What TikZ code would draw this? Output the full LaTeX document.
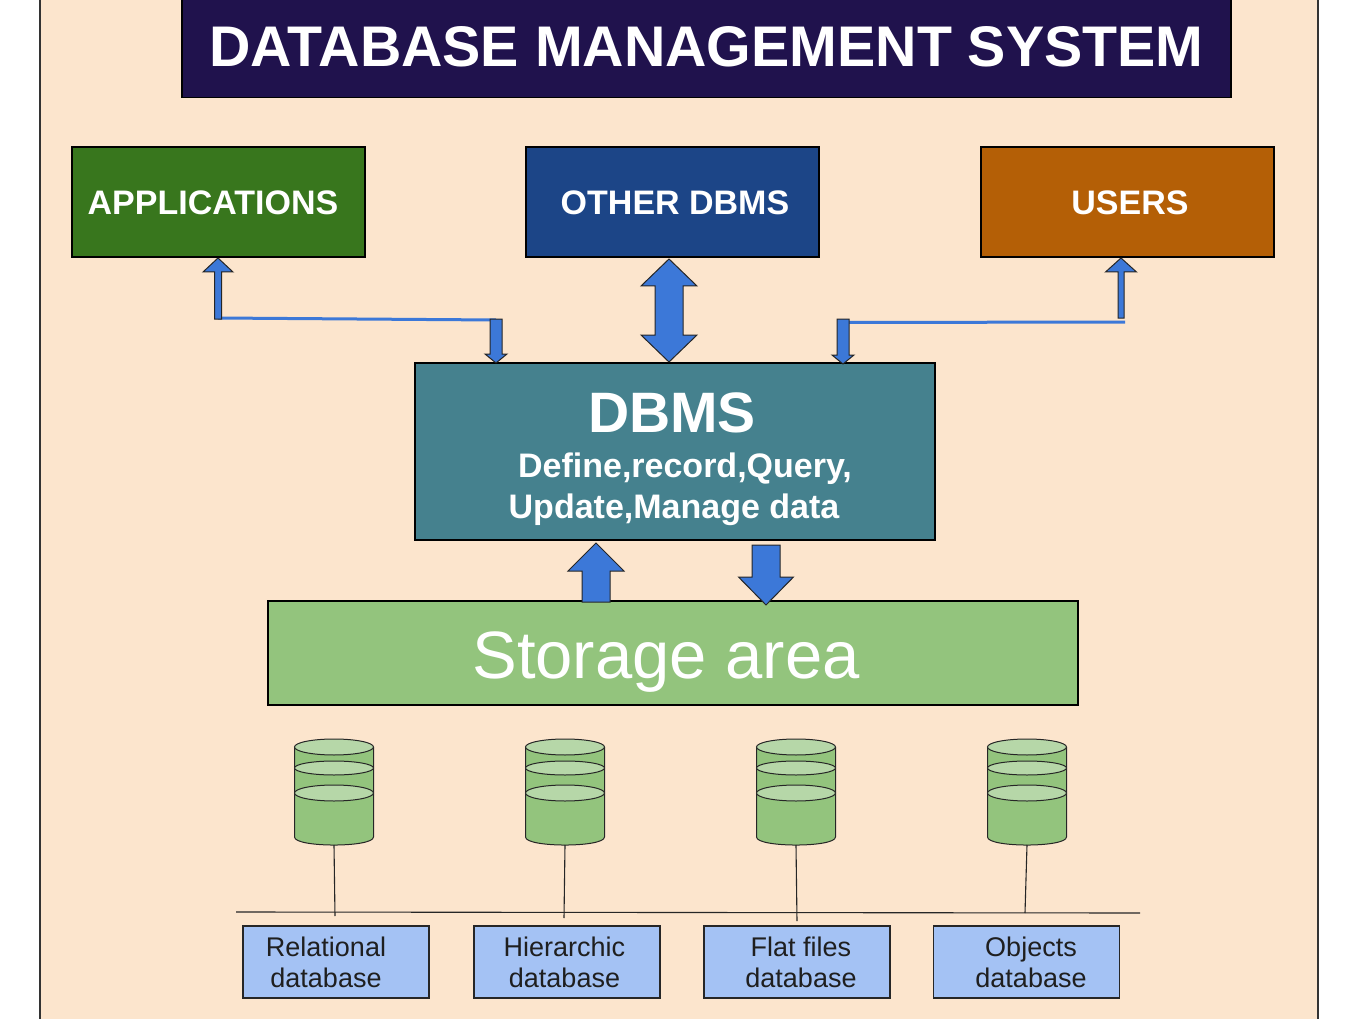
\documentclass[tikz,border=0pt]{standalone}
\usepackage{fontspec}
\setmainfont{Liberation Sans}
\definecolor{peach}{HTML}{FCE5CD}
\definecolor{titlecol}{HTML}{20124D}
\definecolor{appgreen}{HTML}{38761D}
\definecolor{otherblue}{HTML}{1C4587}
\definecolor{userorange}{HTML}{B45F06}
\definecolor{dbmsteal}{HTML}{45818E}
\definecolor{storegreen}{HTML}{93C47D}
\definecolor{cyllight}{HTML}{B6D7A8}
\definecolor{arrowblue}{HTML}{3C78D8}
\definecolor{dbboxblue}{HTML}{A4C2F4}
\newcommand{\myblockarrow}[6]{% cx, tip y, head base y, shaft end y, head half, shaft half
  \filldraw[bigarrow] (#1,#2) -- (#1+#5,#3) -- (#1+#6,#3) -- (#1+#6,#4) -- (#1-#6,#4) -- (#1-#6,#3) -- (#1-#5,#3) -- cycle;}
\newcommand{\mydbcyl}[2]{% name, cx
  \fill[storegreen] (#2-39.5,747) -- (#2-39.5,837) .. controls (#2-39.5,847.7) and (#2+39.5,847.7) .. (#2+39.5,837) -- (#2+39.5,747) -- cycle;
  \draw[cylline] (#2-39.5,747) -- (#2-39.5,837) .. controls (#2-39.5,847.7) and (#2+39.5,847.7) .. (#2+39.5,837) -- (#2+39.5,747);
  \filldraw[cylline, fill=cyllight] (#2,747) ellipse[x radius=39.5, y radius=8];
  \filldraw[cylline, fill=cyllight] (#2,768) ellipse[x radius=39.5, y radius=7];
  \filldraw[cylline, fill=cyllight] (#2,793) ellipse[x radius=39.5, y radius=8];
  \coordinate (#1) at (#2,845);}
\begin{document}
\begin{tikzpicture}[x=1pt,y=-1pt,
  box/.style={draw=black, line width=1.2pt, inner sep=0pt, text=white},
  bigarrow/.style={fill=arrowblue, draw=black!85, line width=1pt, line join=miter},
  link/.style={draw=arrowblue, line width=3pt},
  wire/.style={draw=black!85, line width=1.1pt},
  cylline/.style={draw=black!85, line width=1pt},
  dbbox/.style={draw=black!85, line width=1.1pt, fill=dbboxblue, minimum width=186pt, minimum height=72pt, inner sep=0pt},
  dbtext/.style={inner sep=0pt, align=center, text=black!88, font=\fontsize{27}{31}\selectfont, text depth=0pt},
  toplabel/.style={box, minimum width=293pt, minimum height=110pt},
  toptext/.style={wtext, font=\fontsize{34}{40}\selectfont\bfseries},
  wtext/.style={anchor=base, inner sep=0pt, text=white}]
\useasboundingbox (0,0) rectangle (1358,1019);
\fill[white] (0,0) rectangle (1358,1019);
\fill[peach] (40,0) rectangle (1318,1019);
\draw[line width=1.2pt, black!80] (40,0) -- (40,1019);
\draw[line width=1.2pt, black!80] (1318,0) -- (1318,1019);

% title
\node[box, fill=titlecol, minimum width=1049pt, minimum height=101pt, font=\fontsize{57.3}{62}\selectfont\bfseries] (title) at (706.5,47) {DATABASE MANAGEMENT SYSTEM};

% top boxes
\node[toplabel, fill=appgreen] (apps) at (218.5,202) {};
\node[toptext] (appsT) at (213,215) {APPLICATIONS};
\node[toplabel, fill=otherblue] (other) at (672.5,202) {};
\node[toptext] (otherT) at (675,215) {OTHER DBMS};
\node[toplabel, fill=userorange] (users) at (1127.5,202) {};
\node[toptext] (usersT) at (1130,215) {USERS};

% DBMS box
\node[box, fill=dbmsteal, minimum width=520pt, minimum height=177pt] (dbms) at (675,451.5) {};
\node[wtext, font=\fontsize{57}{62}\selectfont\bfseries] (dbmsT) at (672,432) {DBMS};
\node[wtext, font=\fontsize{34}{38}\selectfont\bfseries] (dbmsA) at (685,477) {Define,record,Query,};
\node[wtext, font=\fontsize{34}{38}\selectfont\bfseries] (dbmsB) at (674,518) {Update,Manage data};

% storage
\node[box, fill=storegreen, minimum width=810pt, minimum height=104pt] (store) at (673,653) {};
\node[wtext, font=\fontsize{67}{72}\selectfont] (storeT) at (666,678) {Storage area};

% links
\draw[link] (218,318) -- (496,320);
\draw[link] (849,322.5) -- (1125,322);
\myblockarrow{218}{258}{272}{319}{15}{3.5}
\myblockarrow{496}{363}{354}{319}{11}{6}
\myblockarrow{843}{364}{355}{319}{11}{6}
\myblockarrow{1121}{258}{272}{318}{15.5}{3}
% double arrow
\filldraw[bigarrow] (669,259) -- (697,286) -- (683,286) -- (683,335) -- (697,335) -- (669,362) -- (641,335) -- (655,335) -- (655,286) -- (641,286) -- cycle;
% dbms <-> storage
\myblockarrow{596}{543}{571}{602}{28}{14}
\myblockarrow{766}{605}{577}{545}{27.5}{14}

% cylinders
\mydbcyl{c1}{334}
\mydbcyl{c2}{565}
\mydbcyl{c3}{796}
\mydbcyl{c4}{1027}

% bus
\coordinate (busL) at (236,912);
\coordinate (busR) at (1140,913);
\draw[wire] (busL) -- (busR);
\coordinate (e1) at (335,916);
\coordinate (e2) at (564,918);
\coordinate (e3) at (797,921);
\coordinate (e4) at (1025,913);
\draw[wire] (c1) -- (e1);
\draw[wire] (c2) -- (e2);
\draw[wire] (c3) -- (e3);
\draw[wire] (c4) -- (e4);

% db boxes
\node[dbbox] (db1) at (336,962) {};
\node[dbtext] (db1T) at (326,962) {Relational\\database};
\node[dbbox] (db2) at (567,962) {};
\node[dbtext] (db2T) at (564.5,962) {Hierarchic\\database};
\node[dbbox] (db3) at (797,962) {};
\node[dbtext] (db3T) at (801,962) {Flat files\\database};
\node[dbbox] (db4) at (1026.5,962) {};
\node[dbtext] (db4T) at (1031,962) {Objects\\database};
\end{tikzpicture}
\end{document}
